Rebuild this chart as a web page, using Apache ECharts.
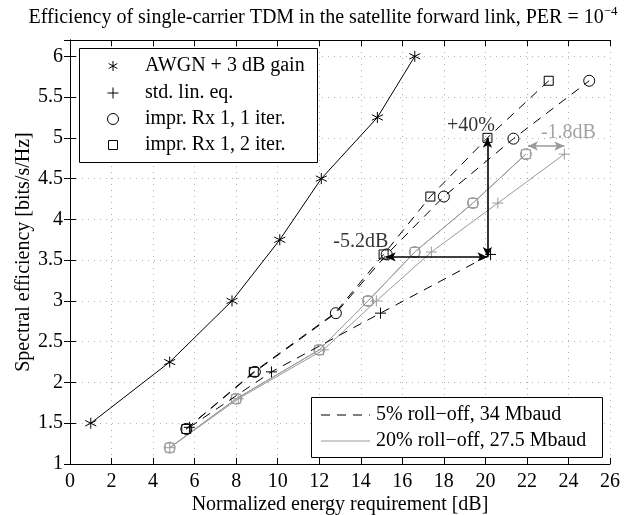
<!DOCTYPE html>
<html><head><meta charset="utf-8">
<script src="https://cdn.jsdelivr.net/npm/echarts@6/dist/echarts.min.js"></script>
<style>html,body{margin:0;padding:0;background:#fff}#c{width:644px;height:515px}</style>
</head><body><div id="c"></div>
<script>
// ---- data ----
const awgn = [[1.0,1.5],[4.8,2.25],[7.8,3.0],[10.1,3.75],[12.1,4.5],[14.8,5.25],[16.6,6.0]];
const std5 = [[5.75,1.45],[9.7,2.13],[14.95,2.85],[20.25,3.57]];
const rx1it5 = [[5.6,1.43],[8.9,2.13],[12.8,2.85],[15.25,3.57],[18.0,4.28],[21.35,4.99],[25.0,5.7]];
const rx2it5 = [[5.6,1.43],[8.85,2.13],[12.75,2.85],[15.1,3.57],[17.35,4.28],[20.1,5.0],[23.05,5.7]];
const rx2it5Hidden = [2]; // index whose marker is hidden behind circle
const std20 = [[4.8,1.2],[8.1,1.8],[12.2,2.4],[14.75,3.0],[17.4,3.6],[20.6,4.2],[23.8,4.8]];
const rx1it20 = [[4.8,1.2],[8.0,1.8],[12.0,2.4],[14.35,3.0],[16.6,3.6],[19.4,4.2],[21.95,4.8]];
const rx2it20 = [[4.8,1.2],[8.0,1.8],[12.0,2.4],[14.35,3.0],[16.6,3.6],[19.4,4.2],[21.95,4.8]];
const arrowsBlack = [[[15.2,3.54],[20.1,3.54]],[[20.1,3.54],[20.1,5.0]]];
const arrowsGray = [[[22.05,4.9],[23.8,4.9]]];
const annotations = [[14.0,3.73,'-5.2dB','#000'],[19.3,5.15,'+40%','#000'],[24.0,5.06,'-1.8dB','#8c8c8c']];
const xTicks = {min:0,max:26,interval:2};
const yTicks = {min:1,max:6.2,interval:0.5};
const legend1 = ['AWGN + 3 dB gain','std. lin. eq.','impr. Rx 1, 1 iter.','impr. Rx 1, 2 iter.'];
const legend2 = ['5% roll\u2212off, 34 Mbaud','20% roll\u2212off, 27.5 Mbaud'];

const FONT = 'Liberation Serif';
const FS = 20;
const GRAY = '#9a9a9a';
const starPath = 'path://M5,0L5,10M0.7,2.5L9.3,7.5M0.7,7.5L9.3,2.5';
const plusPath = 'path://M5,0L5,10M0,5L10,5';

function mkSeries(name, data, color, dashed, symbol, size, z) {
  return {
    name, type:'line', data, z: z||2,
    symbol, symbolSize:size, showSymbol:true,
    lineStyle:{color, width:1, type: dashed ? [9,7] : 'solid'},
    itemStyle:{color:'rgba(0,0,0,0)', borderColor:color, borderWidth:1},
    emphasis:{disabled:true}, animation:false, silent:true
  };
}

const chart = echarts.init(document.getElementById('c'), null, {renderer:'canvas'});
const axisCommon = {
  axisLine:{show:true, lineStyle:{color:'#000', width:1}},
  axisTick:{show:true, inside:true, length:6, lineStyle:{color:'#000'}},
  axisLabel:{color:'#000', fontFamily:FONT, fontSize:FS},
};
const gridLine = {show:true, lineStyle:{color:'#b0b0b0', type:[1,5], width:1}};

const series = [
  mkSeries('std20', std20, GRAY, false, plusPath, 11, 2),
  mkSeries('rx1it20', rx1it20, GRAY, false, 'circle', 11, 2),
  mkSeries('rx2it20', rx2it20, GRAY, false, 'rect', 9, 2),
  mkSeries('awgn', awgn, '#000', false, starPath, 11, 3),
  mkSeries('std5', std5, '#000', true, plusPath, 11, 3),
  mkSeries('rx1it5', rx1it5, '#000', true, 'circle', 11, 3),
  mkSeries('rx2it5', rx2it5.map((p,i)=> rx2it5Hidden.includes(i) ? {value:p, symbol:'none'} : p), '#000', true, 'rect', 9, 3),
  {
    type:'line', data:[], silent:true, animation:false, z:5,
    markLine:{silent:true, animation:false, symbol:['arrow','arrow'], symbolSize:[7,10], label:{show:false},
      lineStyle:{color:'#000', width:1.6, type:'solid'},
      data: arrowsBlack.map(a=>[{coord:a[0]},{coord:a[1]}]).concat(
        arrowsGray.map(a=>[{coord:a[0], lineStyle:{color:GRAY,width:1.6}},{coord:a[1]}]))
    }
  },
  {
    type:'scatter', silent:true, animation:false, z:6, symbolSize:0,
    data: annotations.map(a=>({value:[a[0],a[1]], label:{show:true, formatter:a[2], color:a[3], fontFamily:FONT, fontSize:FS, position:'inside'}}))
  }
];

// legend graphics
const g = [];
g.push({type:'rect', shape:{x:79.5,y:48.5,width:238,height:114}, style:{fill:'#fff', stroke:'#000', lineWidth:1}, z:100});
const l1y = [66, 93, 119, 145];
const mx = 113;
legend1.forEach((t,i)=>{
  g.push({type:'text', x:145, y:l1y[i], style:{text:t, font:FS+'px "'+FONT+'"', fill:'#000', textVerticalAlign:'middle', verticalAlign:'middle'}, z:101});
});
[[0,-5,0,5],[-4.3,-2.5,4.3,2.5],[-4.3,2.5,4.3,-2.5]].forEach(s=>g.push({type:'line', shape:{x1:mx+s[0],y1:l1y[0]+s[1],x2:mx+s[2],y2:l1y[0]+s[3]}, style:{stroke:'#000',lineWidth:1}, z:101}));
[[0,-5.5,0,5.5],[-5.5,0,5.5,0]].forEach(s=>g.push({type:'line', shape:{x1:mx+s[0],y1:l1y[1]+s[1],x2:mx+s[2],y2:l1y[1]+s[3]}, style:{stroke:'#000',lineWidth:1}, z:101}));
g.push({type:'circle', shape:{cx:mx, cy:l1y[2], r:5.5}, style:{fill:'none', stroke:'#000', lineWidth:1}, z:101});
g.push({type:'rect', shape:{x:mx-4.5, y:l1y[3]-4.5, width:9, height:9}, style:{fill:'none', stroke:'#000', lineWidth:1}, z:101});

g.push({type:'rect', shape:{x:311.5,y:397.5,width:291,height:60}, style:{fill:'#fff', stroke:'#000', lineWidth:1}, z:100});
const l2y = [415, 441];
g.push({type:'line', shape:{x1:321,y1:l2y[0],x2:370,y2:l2y[0]}, style:{stroke:'#000', lineWidth:1, lineDash:[9,7]}, z:101});
g.push({type:'line', shape:{x1:321,y1:l2y[1],x2:370,y2:l2y[1]}, style:{stroke:GRAY, lineWidth:1}, z:101});
legend2.forEach((t,i)=>{
  g.push({type:'text', x:376, y:l2y[i], style:{text:t, font:FS+'px "'+FONT+'"', fill:'#000', textVerticalAlign:'middle', verticalAlign:'middle'}, z:101});
});
// title
g.push({type:'text', x:323, y:18, style:{
  text:'{a|Efficiency of single-carrier TDM in the satellite forward link, PER = 10}{b|\u22124}',
  rich:{a:{fontFamily:FONT, fontSize:FS, fill:'#000', color:'#000'}, b:{fontFamily:FONT, fontSize:13, color:'#000', fill:'#000', padding:[0,0,13,0]}},
  textAlign:'center', align:'center', textVerticalAlign:'middle', verticalAlign:'middle'}, z:101});

chart.setOption({
  backgroundColor:'#fff',
  animation:false,
  grid:{left:70, right:34, top:40, bottom:51, show:false, containLabel:false, outerBoundsMode:'none'},
  xAxis:[
    Object.assign({type:'value', min:xTicks.min, max:xTicks.max, interval:xTicks.interval, position:'bottom',
      name:'Normalized energy requirement [dB]', nameLocation:'middle', nameGap:31, nameMoveOverlap:false,
      nameTextStyle:{fontFamily:FONT, fontSize:FS, color:'#000'},
      splitLine:gridLine}, axisCommon, {axisLabel:Object.assign({}, axisCommon.axisLabel, {margin:8})}),
    Object.assign({type:'value', min:xTicks.min, max:xTicks.max, interval:xTicks.interval, position:'top',
      splitLine:{show:false}}, axisCommon, {axisLabel:{show:false}})
  ],
  yAxis:[
    Object.assign({type:'value', min:yTicks.min, max:yTicks.max, interval:yTicks.interval, position:'left',
      name:'Spectral efficiency [bits/s/Hz]', nameLocation:'middle', nameGap:36, nameMoveOverlap:false,
      nameTextStyle:{fontFamily:FONT, fontSize:FS, color:'#000'},
      splitLine:gridLine}, axisCommon, {axisLabel:Object.assign({}, axisCommon.axisLabel, {showMaxLabel:false, margin:7})}),
    Object.assign({type:'value', min:yTicks.min, max:yTicks.max, interval:yTicks.interval, position:'right',
      splitLine:{show:false}}, axisCommon, {axisLabel:{show:false}})
  ],
  series,
  graphic:g
});
</script></body></html>
